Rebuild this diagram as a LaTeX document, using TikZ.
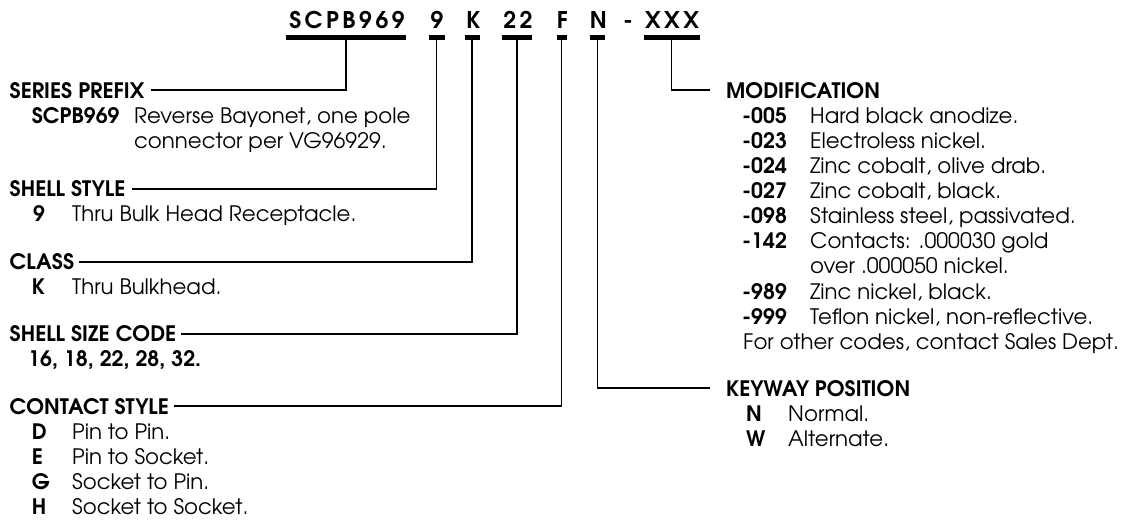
\documentclass[tikz,border=0pt]{standalone}
\usepackage{fontspec}
\setmainfont{texgyreadventor-regular.otf}[BoldFont=texgyreadventor-bold.otf]
\newfontfamily\hdfont{texgyreadventor-bold.otf}
\newfontfamily\ttlfont{texgyreadventor-bold.otf}[LetterSpace=15]
\tikzset{
  hd/.style={anchor=base west, inner sep=0pt, font=\hdfont\fontsize{21.3}{21.3}\selectfont},
  cd/.style={anchor=base west, inner sep=0pt, font=\hdfont\fontsize{21.3}{21.3}\selectfont},
  tx/.style={anchor=base west, inner sep=0pt, font=\fontsize{21.3}{21.3}\selectfont},
  ttl/.style={anchor=base, inner sep=0pt, font=\ttlfont\fontsize{23}{23}\selectfont},
  ulbar/.style={fill=black, inner sep=0pt, minimum height=4.5pt},
  conn/.style={line width=1.9pt},
}
\begin{document}
\begin{tikzpicture}[x=1pt,y=-1pt]
\useasboundingbox (0,0) rectangle (1127,521);
% title
\node[ttl] (tA) at (347,28.5) {SCPB969};
\node[ttl] (t9) at (437,28.5) {9};
\node[ttl] (tK) at (473.5,28.5) {K};
\node[ttl] (t22) at (518,28.5) {22};
\node[ttl] (tF) at (562.5,28.5) {F};
\node[ttl] (tN) at (598.5,28.5) {N};
\node[ttl] (tD) at (628,28.5) {-};
\node[ttl] (tX) at (672,28.5) {XXX};
\node[ulbar, minimum width=120pt] (uA) at (346,37.5) {};
\node[ulbar, minimum width=16pt] (u9) at (436.5,37.5) {};
\node[ulbar, minimum width=15pt] (uK) at (472,37.5) {};
\node[ulbar, minimum width=30pt] (u22) at (517,37.5) {};
\node[ulbar, minimum width=10pt] (uF) at (561.5,37.5) {};
\node[ulbar, minimum width=15pt] (uN) at (597.5,37.5) {};
\node[ulbar, minimum width=56pt] (uX) at (671.5,37.5) {};
% left
\node[hd] (hSP) at (9.5,98.3) {SERIES PREFIX};
\node[cd] at (31.7,123.3) {SCPB969};
\node[tx] at (134,123.3) {Reverse Bayonet, one pole};
\node[tx] at (134,148.3) {connector per VG96929.};
\node[hd] (hSS) at (9.5,196.8) {SHELL STYLE};
\node[cd] at (33,221.8) {9};
\node[tx] at (72,221.8) {Thru Bulk Head Receptacle.};
\node[hd] (hCL) at (9.5,269.8) {CLASS};
\node[cd] at (31.7,294.8) {K};
\node[tx] at (72,294.8) {Thru Bulkhead.};
\node[hd] (hSZ) at (9.5,341.8) {SHELL SIZE CODE};
\node[cd] at (28,366.8) {16, 18, 22, 28, 32.};
\node[hd] (hCS) at (9.5,414.3) {CONTACT STYLE};
\node[cd] at (31.7,439.3) {D};
\node[tx] at (72,439.3) {Pin to Pin.};
\node[cd] at (31.7,464.3) {E};
\node[tx] at (72,464.3) {Pin to Socket.};
\node[cd] at (31.7,489.3) {G};
\node[tx] at (72,489.3) {Socket to Pin.};
\node[cd] at (31.7,514.3) {H};
\node[tx] at (72,514.3) {Socket to Socket.};
% right
\node[hd] (hMO) at (726,98.3) {MODIFICATION};
\node[cd] at (742,123.4) {-005};
\node[tx] at (810,123.4) {Hard black anodize.};
\node[cd] at (742,148.5) {-023};
\node[tx] at (810,148.5) {Electroless nickel.};
\node[cd] at (742,173.6) {-024};
\node[tx] at (810,173.6) {Zinc cobalt, olive drab.};
\node[cd] at (742,198.7) {-027};
\node[tx] at (810,198.7) {Zinc cobalt, black.};
\node[cd] at (742,223.8) {-098};
\node[tx] at (810,223.8) {Stainless steel, passivated.};
\node[cd] at (742,248.9) {-142};
\node[tx] at (810,248.9) {Contacts: .000030 gold};
\node[tx] at (810,274) {over .000050 nickel.};
\node[cd] at (742,299.1) {-989};
\node[tx] at (810,299.1) {Zinc nickel, black.};
\node[cd] at (742,324.2) {-999};
\node[tx] at (810,324.2) {Teflon nickel, non-reflective.};
\node[tx] at (743,349.3) {For other codes, contact Sales Dept.};
\node[hd] (hKW) at (726,396.1) {KEYWAY POSITION};
\node[cd] at (746,421.1) {N};
\node[tx] at (788,421.1) {Normal.};
\node[cd] at (746,446.1) {W};
\node[tx] at (788,446.1) {Alternate.};
% connectors
\draw[conn] (uA.south) |- ([xshift=6pt]hSP.east);
\draw[conn] (u9.south) |- ([xshift=6pt]hSS.east);
\draw[conn] (uK.south) |- ([xshift=5pt]hCL.east);
\draw[conn] (u22.south) |- ([xshift=5pt]hSZ.east);
\draw[conn] (uF.south) |- ([xshift=5pt]hCS.east);
\draw[conn] (uX.south) |- ([xshift=-16pt]hMO.west);
\draw[conn] (uN.south) |- ([xshift=-16pt]hKW.west);
\end{tikzpicture}
\end{document}
